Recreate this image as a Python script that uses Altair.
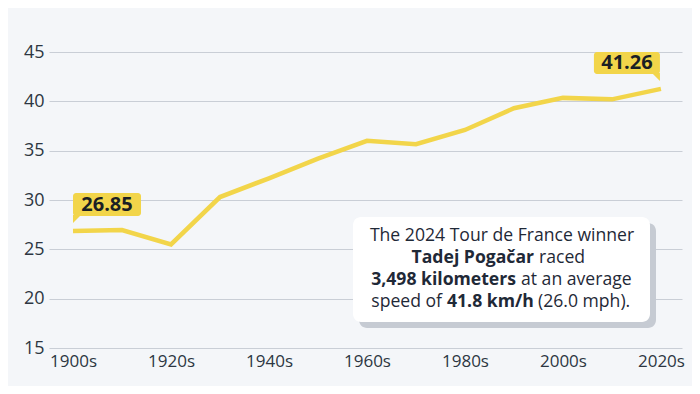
import altair as alt
import pandas as pd

decades = [1900, 1910, 1920, 1930, 1940, 1950, 1960, 1970, 1980, 1990, 2000, 2010, 2020]
speeds = [26.85, 26.95, 25.5, 30.3, 32.2, 34.2, 36.0, 35.65, 37.1, 39.3, 40.35, 40.2, 41.26]
y_ticks = [15, 20, 25, 30, 35, 40, 45]
x_ticks = [1900, 1920, 1940, 1960, 1980, 2000, 2020]

note_line1 = "The 2024 Tour de France winner"
note_line2 = ["Tadej Pogačar", "raced"]
note_line3 = ["3,498 kilometers", "at an average"]
note_line4 = ["speed of", "41.8 km/h", "(26.0 mph)."]

df = pd.DataFrame({"decade": decades, "speed": speeds})
first = df.iloc[[0]].assign(lbl=lambda d: d["speed"].map(lambda v: f"{v:.2f}"))
last = df.iloc[[-1]].assign(lbl=lambda d: d["speed"].map(lambda v: f"{v:.2f}"))

YELLOW = "#f2d54a"
BG = "#f4f6f9"
FONT = "Open Sans"
DARK = "#1f2937"

x_enc = alt.X("decade:Q", scale=alt.Scale(domain=[1895.1, 2024.3], nice=False, zero=False),
              axis=alt.Axis(values=x_ticks, labelExpr="datum.value + 's'", title=None,
                            grid=False, ticks=False, domain=False, labelFontSize=17,
                            labelPadding=5, labelColor="#2d3642", labelFont=FONT))
y_enc = alt.Y("speed:Q", scale=alt.Scale(domain=[15, 45], nice=False, zero=False),
              axis=alt.Axis(values=y_ticks, title=None, grid=True, gridColor="#c9ced6",
                            gridWidth=1.2, ticks=False, domain=False, labelFontSize=18,
                            labelPadding=5, labelColor="#2d3642", labelFont=FONT))

line = alt.Chart(df).mark_line(color=YELLOW, strokeWidth=4.5).encode(x=x_enc, y=y_enc)


def callout(d, left):
    if left:
        rect = alt.Chart(d).mark_rect(color=YELLOW, cornerRadius=3, xOffset=0, x2Offset=68,
                                      yOffset=-38, y2Offset=-15)
        tail_path = "M0,-16 L8,-16 L0,-8 Z"
        dx = 34
    else:
        rect = alt.Chart(d).mark_rect(color=YELLOW, cornerRadius=3, xOffset=-67, x2Offset=-1,
                                      yOffset=-37, y2Offset=-15)
        tail_path = "M-1,-16 L-9,-16 L-1,-8 Z"
        dx = -34
    rect = rect.encode(x="decade:Q", x2="decade:Q", y="speed:Q", y2="speed:Q")
    tail = alt.Chart(d).mark_point(shape=tail_path, size=4, filled=True, color=YELLOW,
                                   opacity=1, strokeWidth=0).encode(x="decade:Q", y="speed:Q")
    txt = alt.Chart(d).mark_text(font=FONT, fontSize=20, fontWeight="bold", color="#1b1f24",
                                 dx=dx, dy=-26, baseline="middle", align="center").encode(
        x="decade:Q", y="speed:Q", text="lbl:N")
    return rect + tail + txt


one = pd.DataFrame({"k": [0]})


def box(x, x2, y, y2, color, r):
    return alt.Chart(one).mark_rect(color=color, cornerRadius=r).encode(
        x=alt.value(x), x2=alt.value(x2), y=alt.value(y), y2=alt.value(y2))


def seg(text, x, y, align, bold=False):
    return alt.Chart(one).mark_text(text=text, font=FONT, fontSize=17.6, align=align,
                                    baseline="alphabetic", color=DARK,
                                    fontWeight="bold" if bold else "normal").encode(
        x=alt.value(x), y=alt.value(y))


note = (
    box(310, 607, 171, 276, "#c6cbd3", 8)
    + box(304, 601, 165, 270, "#ffffff", 8)
    + seg(note_line1, 453, 189, "center")
    + seg(note_line2[0], 485, 211, "right", True)
    + seg(note_line2[1], 490, 211, "left")
    + seg(note_line3[0], 467, 233, "right", True)
    + seg(note_line3[1], 472, 233, "left")
    + seg(note_line4[0], 393, 255, "right")
    + seg(note_line4[1], 398, 255, "left", True)
    + seg(note_line4[2], 489, 255, "left")
)

chart = alt.layer(line, callout(first, True), callout(last, False), note).properties(
    width=633, height=296, background=BG,
    autosize=alt.AutoSizeParams(type="none"),
    padding={"left": 41, "top": 44, "right": 10, "bottom": 38},
).configure_view(stroke=None)

chart.save("out.html", embed_options={"renderer": "svg", "actions": False})
